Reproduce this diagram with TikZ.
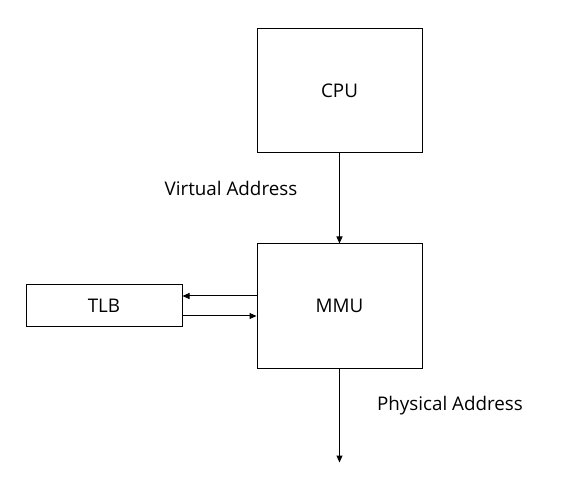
\documentclass[tikz,border=0pt]{standalone}
\usepackage{fontspec}
\setmainfont{Open Sans}
\usetikzlibrary{arrows.meta,positioning}

\begin{document}
\begin{tikzpicture}[
        x=0.5pt, y=-0.5pt,
        unit/.style={draw, rectangle, line width=0.5pt, minimum height=62pt, minimum width=82.5pt, font=\fontsize{9.4}{11}\selectfont},
        cache/.style={draw, rectangle, line width=0.5pt, minimum height=21pt, minimum width=78pt, font=\fontsize{9.4}{11}\selectfont},
        lbl/.style={font=\fontsize{9.4}{11}\selectfont},
        >={Triangle[length=3.5pt,width=3pt]},
        every path/.style={line width=0.5pt}
    ]
        \useasboundingbox (0,0) rectangle (572,480);

        \node[unit] (cpu) at (339.5,91) {CPU};
        \node[unit, below=45pt of cpu] (mmu) {MMU};
        \node[cache, left=37pt of mmu] (tlb) {TLB};
        \coordinate[below=47pt of mmu] (out);

        \draw[->] (cpu) -- (mmu);
        \draw[->] ([yshift=5pt]mmu.west) -- ([yshift=5pt]tlb.east);
        \draw[->] ([yshift=-5pt]tlb.east) -- ([yshift=-5pt]mmu.west);
        \draw[->] (mmu) -- (out);

        \node[lbl] (va) at (231,188) {Virtual Address};
        \node[lbl] (pa) at (450,406) {Physical Address};
    \end{tikzpicture}
\end{document}
